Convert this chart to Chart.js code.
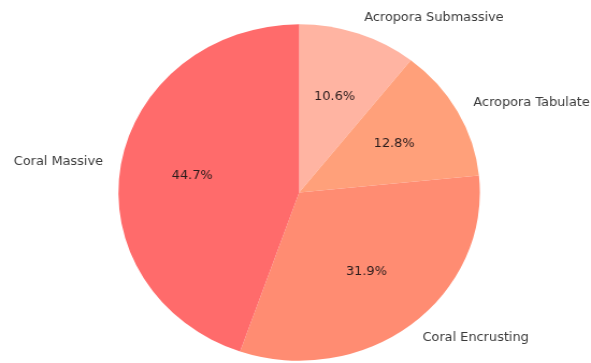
<!DOCTYPE html>
<html>
<head>
<meta charset="utf-8">
<script src="https://cdn.jsdelivr.net/npm/chart.js@4"></script>
<style>
  html, body { margin: 0; padding: 0; background: #fff; overflow: hidden; }
  /* the pie is drawn slightly wider than tall */
  #wrap { width: 550px; height: 363px; transform: scaleX(1.0745); transform-origin: 0 0; }
</style>
</head>
<body>
<div id="wrap"><canvas id="c" width="550" height="363"></canvas></div>
<script>
// Coral growth forms, share of colonies (%)
const categories = ['Acropora Submassive', 'Acropora Tabulate', 'Coral Encrusting', 'Coral Massive'];
const shares = [10.6, 12.8, 31.9, 44.7];
const sliceColors = ['#ffb4a2', '#ffa07a', '#ff8c72', '#ff6b6b'];

// Category names outside the pie, percentages inside
const sliceText = {
  id: 'sliceText',
  afterDatasetsDraw(chart) {
    const ctx = chart.ctx;
    const meta = chart.getDatasetMeta(0);
    ctx.save();
    ctx.font = '12px "DejaVu Sans"';
    ctx.textBaseline = 'middle';
    meta.data.forEach((arc, i) => {
      const p = arc.getProps(['x', 'y', 'startAngle', 'endAngle', 'outerRadius'], true);
      const mid = (p.startAngle + p.endAngle) / 2;
      const c = Math.cos(mid), s = Math.sin(mid);
      const r = p.outerRadius;
      ctx.fillStyle = '#3a3a3a';
      ctx.textAlign = c > 0 ? 'left' : 'right';
      ctx.fillText(categories[i], p.x + c * 1.1 * r, p.y + s * 1.1 * r);
      ctx.fillStyle = '#2a1c1c';
      ctx.textAlign = 'center';
      ctx.fillText(shares[i].toFixed(1) + '%', p.x + c * 0.6 * r, p.y + s * 0.6 * r);
    });
    ctx.restore();
  }
};

new Chart(document.getElementById('c'), {
  type: 'pie',
  data: {
    labels: categories,
    datasets: [{
      data: shares,
      backgroundColor: sliceColors,
      borderWidth: 0
    }]
  },
  options: {
    responsive: false,
    animation: false,
    devicePixelRatio: 1,
    layout: { padding: { left: 110.2, right: 103.4, top: 24.3, bottom: 2.3 } },
    plugins: { legend: { display: false }, tooltip: { enabled: false } }
  },
  plugins: [sliceText]
});
</script>
</body>
</html>
